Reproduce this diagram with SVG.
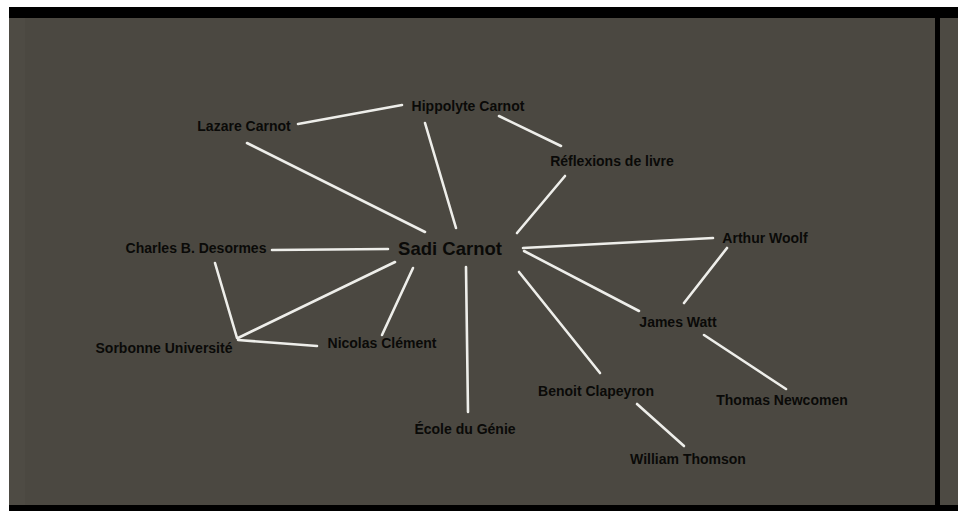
<svg xmlns="http://www.w3.org/2000/svg" width="958" height="511" viewBox="0 0 958 511">
<style>
.lbl{font-family:"Liberation Sans",Arial,sans-serif;font-weight:bold;font-size:14px;fill:#0a0a08;text-anchor:middle;dominant-baseline:central}
.main{font-size:18.5px}
.edge{stroke:#eeeeea;stroke-width:2.6;stroke-linecap:round;fill:none}
</style>
<rect x="0" y="0" width="958" height="511" fill="#ffffff"/>
<rect x="9" y="7" width="949" height="504" fill="#000000"/>
<rect x="9" y="18" width="926" height="487" fill="#4b4841"/>
<rect x="9" y="18" width="16" height="487" fill="#4e4b44"/>
<rect x="940" y="18" width="18" height="487" fill="#4d4a43"/>
<g id="connectors">
<line class="edge" x1="298" y1="124" x2="402" y2="105"/>
<line class="edge" x1="247" y1="143" x2="425" y2="232"/>
<line class="edge" x1="425" y1="123" x2="456" y2="228"/>
<line class="edge" x1="499" y1="116" x2="561" y2="146"/>
<line class="edge" x1="565" y1="176" x2="517" y2="233"/>
<line class="edge" x1="523" y1="248" x2="713" y2="238"/>
<line class="edge" x1="524" y1="251" x2="639" y2="311"/>
<line class="edge" x1="727" y1="248" x2="684" y2="303"/>
<line class="edge" x1="704" y1="335" x2="786" y2="389"/>
<line class="edge" x1="519" y1="272" x2="600" y2="373"/>
<line class="edge" x1="466" y1="267" x2="468" y2="412"/>
<line class="edge" x1="637" y1="404" x2="684" y2="446"/>
<line class="edge" x1="272" y1="250" x2="388" y2="249"/>
<line class="edge" x1="395" y1="262" x2="238" y2="338"/>
<line class="edge" x1="413" y1="268" x2="382" y2="335"/>
<line class="edge" x1="215" y1="263" x2="237" y2="338"/>
<line class="edge" x1="238" y1="340" x2="317" y2="346"/>
</g>
<g id="n-sadi"><text class="lbl main" x="450" y="248">Sadi Carnot</text></g>
<g id="n-lazare"><text class="lbl" x="244" y="126">Lazare Carnot</text></g>
<g id="n-hippolyte"><text class="lbl" x="468" y="106">Hippolyte Carnot</text></g>
<g id="n-reflexions"><text class="lbl" x="612" y="161">Réflexions de livre</text></g>
<g id="n-woolf"><text class="lbl" x="765" y="238">Arthur Woolf</text></g>
<g id="n-watt"><text class="lbl" x="678" y="322">James Watt</text></g>
<g id="n-newcomen"><text class="lbl" x="782" y="400">Thomas Newcomen</text></g>
<g id="n-desormes"><text class="lbl" x="196" y="248">Charles B. Desormes</text></g>
<g id="n-sorbonne"><text class="lbl" x="164" y="348">Sorbonne Université</text></g>
<g id="n-clement"><text class="lbl" x="382" y="343">Nicolas Clément</text></g>
<g id="n-ecole"><text class="lbl" x="465" y="429">École du Génie</text></g>
<g id="n-clapeyron"><text class="lbl" x="596" y="391">Benoit Clapeyron</text></g>
<g id="n-thomson"><text class="lbl" x="688" y="459">William Thomson</text></g>
</svg>
